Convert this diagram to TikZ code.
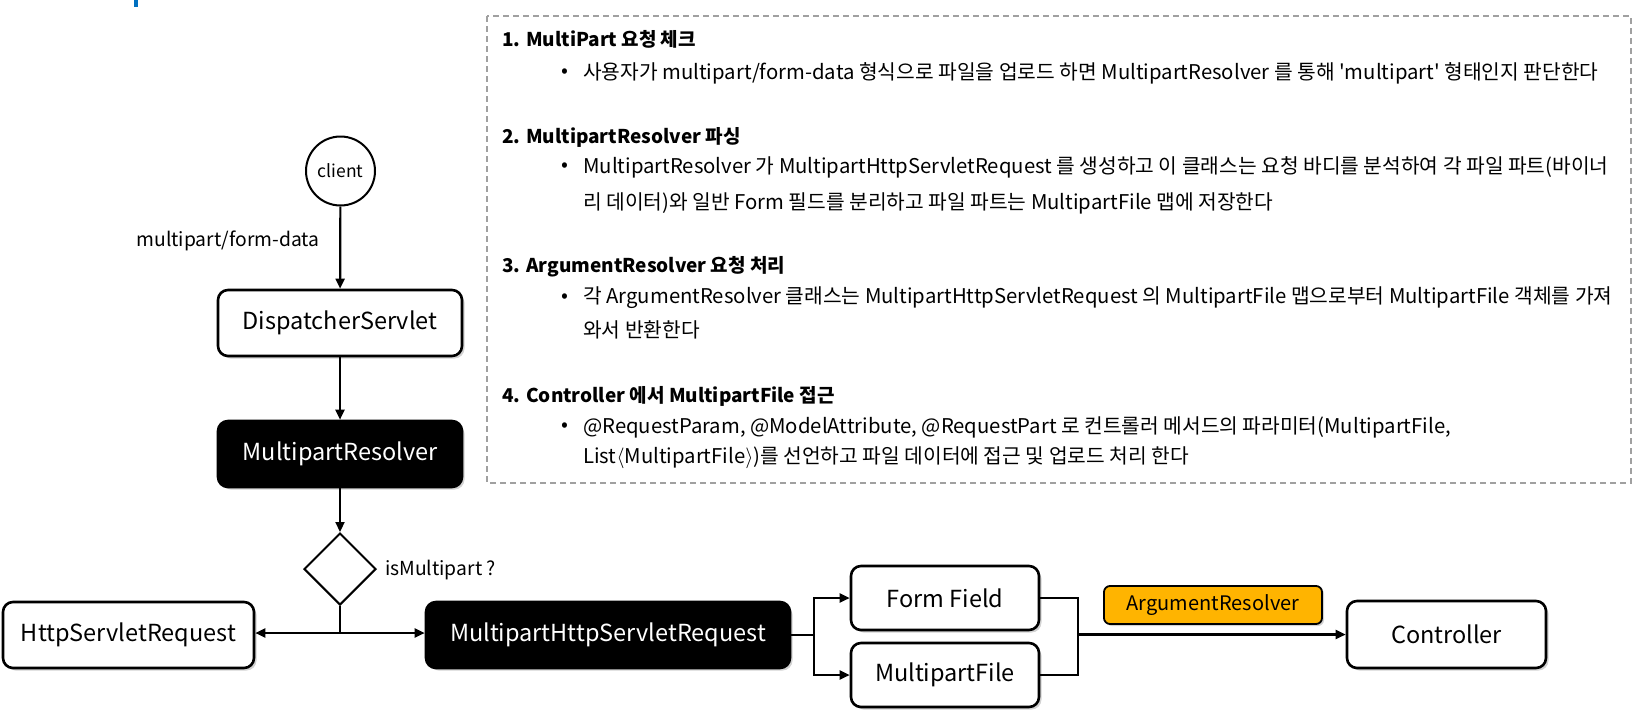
\documentclass[tikz,border=0pt]{standalone}
\usepackage{fontspec}
\setmainfont{Noto Sans CJK KR}
\usetikzlibrary{arrows.meta,shapes.geometric,shadows}
\definecolor{orangebox}{RGB}{255,180,0}
\definecolor{dashgray}{RGB}{160,160,160}
\definecolor{markblue}{RGB}{0,112,192}
\tikzset{
  box/.style={draw=black, line width=2.6pt, rounded corners=10pt, fill=white,
    inner sep=0pt, minimum height=66pt, font=\fontsize{23.5}{27}\selectfont,
    drop shadow={opacity=0.35, shadow xshift=2.5pt, shadow yshift=-2.5pt}},
  darkbox/.style={box, fill=black, text=white},
  arr/.style={line width=2.2pt, -{Triangle[length=10pt,width=9pt]}},
  ln/.style={line width=2.2pt},
  desc/.style={anchor=west, inner sep=0pt, font=\fontsize{20.3}{24}\selectfont},
  head/.style={desc, font=\fontsize{19}{24}\selectfont\bfseries},
  lbl/.style={inner sep=0pt, font=\fontsize{19.3}{22}\selectfont},
}
\begin{document}
\begin{tikzpicture}[x=1pt,y=-1pt]
\useasboundingbox (0,0) rectangle (1641,718);
\fill[markblue] (134,0) rectangle (138,7);
% dashed description box
\draw[dashgray, line width=1.5pt, dash pattern=on 6pt off 4pt] (487,16) rectangle (1631,483);
\node[head] (h1) at (502,39) {1. MultiPart 요청 체크};
\node[desc] (d1b) at (561,73) {•};
\node[desc] (d1) at (583,73) {사용자가 multipart/form-data 형식으로 파일을 업로드 하면 MultipartResolver 를 통해 \textquotesingle multipart\textquotesingle\ 형태인지 판단한다};
\node[head] (h2) at (502,137) {2. MultipartResolver 파싱};
\node[desc] (d2b) at (561,167.5) {•};
\node[desc] (d2) at (583,167.5) {MultipartResolver 가 MultipartHttpServletRequest 를 생성하고 이 클래스는 요청 바디를 분석하여 각 파일 파트(바이너};
\node[desc] (d2c) at (583,203) {리 데이터)와 일반 Form 필드를 분리하고 파일 파트는 MultipartFile 맵에 저장한다};
\node[head] (h3) at (502,267) {3. ArgumentResolver 요청 처리};
\node[desc] (d3b) at (561,298) {•};
\node[desc] (d3) at (583,298) {각 ArgumentResolver 클래스는 MultipartHttpServletRequest 의 MultipartFile 맵으로부터 MultipartFile 객체를 가져};
\node[desc] (d3c) at (583,330) {와서 반환한다};
\node[head] (h4) at (502,396) {4. Controller 에서 MultipartFile 접근};
\node[desc] (d4b) at (561,427) {•};
\node[desc] (d4) at (583,427) {@RequestParam, @ModelAttribute, @RequestPart 로 컨트롤러 메서드의 파라미터(MultipartFile,};
\node[desc] (d4c) at (583,458) {List$\langle$MultipartFile$\rangle$)를 선언하고 파일 데이터에 접근 및 업로드 처리 한다};
% flow
\node[draw, circle, line width=2pt, minimum size=69pt, inner sep=0pt, fill=white, font=\fontsize{17.5}{21}\selectfont] (client) at (340.5,171) {client};
\node[lbl] (mfd) at (228,241) {multipart/form-data};
\node[box, minimum width=244pt] (ds) at (340,323) {DispatcherServlet};
\node[darkbox, minimum width=244pt] (mr) at (340,454) {MultipartResolver};
\node[draw, diamond, aspect=1, minimum size=72pt, inner sep=0pt, line width=2pt, fill=white] (dia) at (340,569) {};
\node[lbl, anchor=west] (ism) at (385,570) {isMultipart ?};
\node[box, minimum width=251pt] (hsr) at (128.5,635) {HttpServletRequest};
\node[darkbox, minimum width=364pt] (mhsr) at (608,635) {MultipartHttpServletRequest};
\node[box, minimum width=188pt, minimum height=64pt] (ff) at (945,598) {Form Field};
\node[box, minimum width=188pt, minimum height=64pt] (mf) at (945,675) {MultipartFile};
\node[box, minimum width=199pt, minimum height=67pt] (ctl) at (1446.5,634.5) {Controller};
\node[draw=black, line width=1.8pt, rounded corners=6pt, fill=orangebox, inner sep=0pt,
  minimum width=218pt, minimum height=38pt, font=\fontsize{20}{23}\selectfont,
  drop shadow={opacity=0.35, shadow xshift=2pt, shadow yshift=-2pt}] (ar) at (1213,605) {ArgumentResolver};
\coordinate (j) at (340,633);
\coordinate (b1) at (814,635);
\coordinate (b2) at (1078,634.5);
\draw[arr] (client) -- (ds);
\draw[arr] (ds) -- (mr);
\draw[arr] (mr) -- (dia);
\draw[ln] (dia.south) -- (j);
\draw[arr] (j) -- (j -| hsr.east);
\draw[arr] (j) -- (j -| mhsr.west);
\draw[ln] (mhsr.east) -- (b1);
\draw[arr] (b1) |- (ff.west);
\draw[arr] (b1) |- (mf.west);
\draw[ln] (ff.east) -| (b2);
\draw[ln] (mf.east) -| (b2);
\draw[arr] (b2) -- (ctl.west);
\end{tikzpicture}
\end{document}
